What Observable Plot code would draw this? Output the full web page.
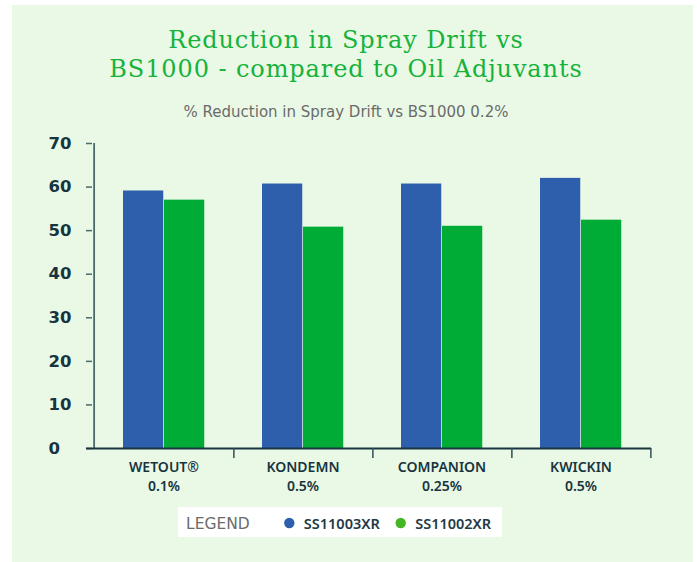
<!DOCTYPE html>
<html><head><meta charset="utf-8">
<script src="https://cdn.jsdelivr.net/npm/d3@7"></script>
<script src="https://cdn.jsdelivr.net/npm/@observablehq/plot@0.6"></script>
<style>
  html,body{margin:0;padding:0;background:#fff;}
  body{width:697px;height:562px;position:relative;overflow:hidden;}
  #panel{position:absolute;left:12px;top:5px;width:681px;height:557px;background:#eaf9e6;}
  .title{position:absolute;left:0;width:692px;text-align:center;font-family:"DejaVu Serif",serif;color:#17b23c;font-size:24px;line-height:29px;letter-spacing:0.9px;white-space:nowrap;}
  #sub{position:absolute;left:0;width:692px;top:102px;text-align:center;font-family:"DejaVu Sans",sans-serif;color:#6b6b6b;font-size:15px;line-height:20px;white-space:nowrap;}
  #chart{position:absolute;left:0;top:130px;}
  #legend{position:absolute;left:178px;top:507px;}
</style>
</head><body>
<div id="panel"></div>
<div class="title" style="top:26px">Reduction in Spray Drift vs</div>
<div class="title" style="top:55px">BS1000 - compared to Oil Adjuvants</div>
<div id="sub">% Reduction in Spray Drift vs BS1000 0.2%</div>
<div id="chart"></div>
<svg id="legend" width="324" height="30"></svg>
<script>
// ---- data ----
const categories = ["WETOUT®", "KONDEMN", "COMPANION", "KWICKIN"];
const rates = ["0.1%", "0.5%", "0.25%", "0.5%"];
const series = ["SS11003XR", "SS11002XR"];
const ss11003xr = [59.1, 60.7, 60.7, 62.0];
const ss11002xr = [57.0, 50.8, 51.0, 52.4];
const yTicks = [0, 10, 20, 30, 40, 50, 60, 70];
const barColors = ["#2e5fad", "#00ac35"];
const legendColors = ["#2e5fad", "#45b523"];

const rows = [];
categories.forEach((c, i) => {
  rows.push({category: c, series: series[0], value: ss11003xr[i]});
  rows.push({category: c, series: series[1], value: ss11002xr[i]});
});

const W = 697, H = 368, mL = 92, mR = 46, mT = 13, mB = 50;
const step = (W - mL - mR) / categories.length;
const barW = 41, gap0 = 29;

const axisColor = "#4a6a6c";
const darkColor = "#17343f";

const chart = Plot.plot({
  width: W, height: H,
  marginLeft: mL, marginRight: mR, marginTop: mT, marginBottom: mB,
  style: {background: "transparent", overflow: "visible"},
  x: {domain: categories, padding: 0, axis: null},
  y: {domain: [0, 70], axis: null},
  marks: [
    Plot.barY(rows.filter(d => d.series === series[0]), {
      x: "category", y: "value", fill: barColors[0],
      insetLeft: gap0, insetRight: step - gap0 - barW
    }),
    Plot.barY(rows.filter(d => d.series === series[1]), {
      x: "category", y: "value", fill: barColors[1],
      insetLeft: gap0 + barW, insetRight: step - gap0 - 2 * barW
    }),
    Plot.axisY({
      ticks: yTicks, tickSize: 6, tickPadding: 38, textAnchor: "start",
      stroke: axisColor, strokeWidth: 1.5, fill: darkColor,
      fontSize: 16.5, fontWeight: "bold", fontFamily: "DejaVu Sans",
      label: null
    }),
    // y axis line
    Plot.ruleX([categories[0]], {dx: -step / 2, y1: 0, y2: 70, stroke: axisColor, strokeWidth: 1.8}),
    // baseline
    Plot.ruleY([0], {stroke: darkColor, strokeWidth: 1.8, insetLeft: -6}),
    // category dividers
    Plot.ruleX(categories, {x: d => d, dx: step / 2, y1: 0, y2: 0, insetBottom: -10, stroke: "#2f4d55", strokeWidth: 1.5}),
    // category labels
    Plot.text(categories, {
      x: d => d, frameAnchor: "bottom", dy: 11, lineAnchor: "top", lineHeight: 1.3,
      text: (d, i) => d + "\n" + rates[i],
      fill: darkColor, fontSize: 14, fontWeight: 600, fontFamily: "Noto Sans"
    })
  ]
});
document.getElementById("chart").appendChild(chart);

// legend
const lg = d3.select("#legend");
lg.append("rect").attr("width", 324).attr("height", 30).attr("fill", "#fff");
lg.append("text").attr("x", 8).attr("y", 22).text("LEGEND")
  .attr("font-family", "DejaVu Sans").attr("font-size", 15.5).attr("fill", "#6b6b6b");
const lx = [111.3, 222.7];
series.forEach((s, i) => {
  lg.append("circle").attr("cx", lx[i]).attr("cy", 16).attr("r", 5.2).attr("fill", legendColors[i]);
  lg.append("text").attr("x", lx[i] + 14.5).attr("y", 22).text(s)
    .attr("font-family", "Noto Sans").attr("font-weight", 600).attr("font-size", 14.5).attr("fill", "#1e3a46");
});
</script>
</body></html>
